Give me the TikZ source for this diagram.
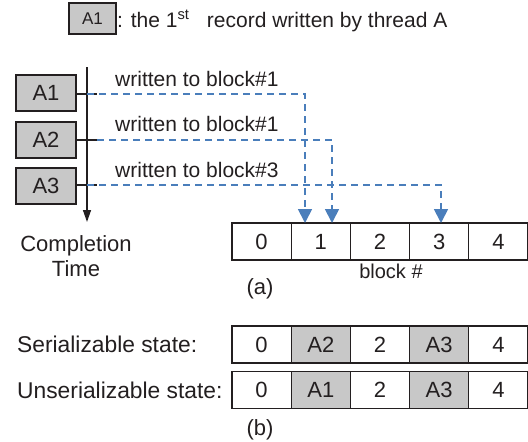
\documentclass[tikz,border=0pt]{standalone}
\usepackage{fontspec}
\setmainfont{Liberation Sans}
\usetikzlibrary{arrows.meta}
\definecolor{txt}{HTML}{231F20}
\definecolor{boxgray}{HTML}{C8C8C8}
\definecolor{dblue}{HTML}{4A7EBB}
\tikzset{
  abox/.style={draw=txt, line width=1.1pt, fill=boxgray, minimum width=60pt, minimum height=36pt, inner sep=0pt, font=\fontsize{22}{24}\selectfont, text=txt},
  legbox/.style={abox, minimum width=47pt, minimum height=31pt, font=\fontsize{17}{19}\selectfont},
  cell/.style={draw=txt, line width=1.1pt, fill=white, minimum width=59.2pt, minimum height=37pt, inner sep=0pt, font=\fontsize{22}{24}\selectfont, text=txt},
  gcell/.style={cell, fill=boxgray},
  lbl/.style={font=\fontsize{22}{24}\selectfont, text=txt, inner sep=0pt},
  wlbl/.style={font=\fontsize{21}{23}\selectfont, text=txt, inner sep=0pt, anchor=west},
  bluedash/.style={draw=dblue, line width=1.8pt, dash pattern=on 7pt off 5pt, -{Triangle[width=14pt,length=14pt,fill=dblue]}},
  stub/.style={draw=txt, line width=1.4pt},
}
\begin{document}
\begin{tikzpicture}[x=1pt,y=-1pt]
\useasboundingbox (0,0) rectangle (528,442);
% legend
\node[legbox] (leg) at (92.5,18.5) {A1};
\node[lbl, font=\fontsize{21}{23}\selectfont, anchor=base west] (legtxt) at (117,27) {: the 1\textsuperscript{st}\ \ \ record written by thread A};
% record boxes
\node[abox] (A1) at (46,93) {A1};
\node[abox] (A2) at (46,140) {A2};
\node[abox] (A3) at (46,186) {A3};
% time axis
\coordinate (ax0) at (87,67);
\coordinate (ax1) at (87,222);
\draw[draw=txt, line width=1.4pt, -{Triangle[width=8pt,length=12pt]}] (ax0) -- (ax1);
% stubs
\coordinate (s1) at (97,94);
\coordinate (s2) at (97,140);
\coordinate (s3) at (97,185);
\draw[stub] (A1.east |- s1) -- (s1);
\draw[stub] (A2.east |- s2) -- (s2);
\draw[stub] (A3.east |- s3) -- (s3);
% block row (a)
\foreach \i in {0,...,4} {
  \node[cell] (c\i) at ({232+29.6+59.2*\i},241.5) {\i};
}
\node[lbl] (blk) at (391,271) {\fontsize{20}{22}\selectfont block \#};
\node[lbl] (la) at (260,289) {(a)};
% arrow targets
\coordinate (t1) at (305,223);
\coordinate (t2) at (332,223);
\coordinate (t3) at (441,223);
\draw[bluedash] (ax0 |- s1) -| (t1);
\draw[bluedash] (s2) -| (t2);
\draw[bluedash] (ax0 |- s3) -| (t3);
% labels on lines
\node[wlbl] (w1) at (115,79) {written to block\#1};
\node[wlbl] (w2) at (115,124) {written to block\#1};
\node[wlbl] (w3) at (115,170) {written to block\#3};
% completion time
\node[lbl, align=center] (ct) at (76,256) {Completion\\[1pt]Time};
% rows (b)
\foreach \i/\t/\s in {0/0/cell,1/A2/gcell,2/2/cell,3/A3/gcell,4/4/cell} {
  \node[\s] (s\i) at ({232+29.6+59.2*\i},344.5) {\t};
}
\foreach \i/\t/\s in {0/0/cell,1/A1/gcell,2/2/cell,3/A3/gcell,4/4/cell} {
  \node[\s] (u\i) at ({232+29.6+59.2*\i},390) {\t};
}
\node[lbl, font=\fontsize{22.8}{25}\selectfont, anchor=west] (ser) at (17,344) {Serializable state:};
\node[lbl, font=\fontsize{22.8}{25}\selectfont, anchor=west] (unser) at (17,390) {Unserializable state:};
\node[lbl] (lb) at (260,430) {(b)};
\end{tikzpicture}
\end{document}
